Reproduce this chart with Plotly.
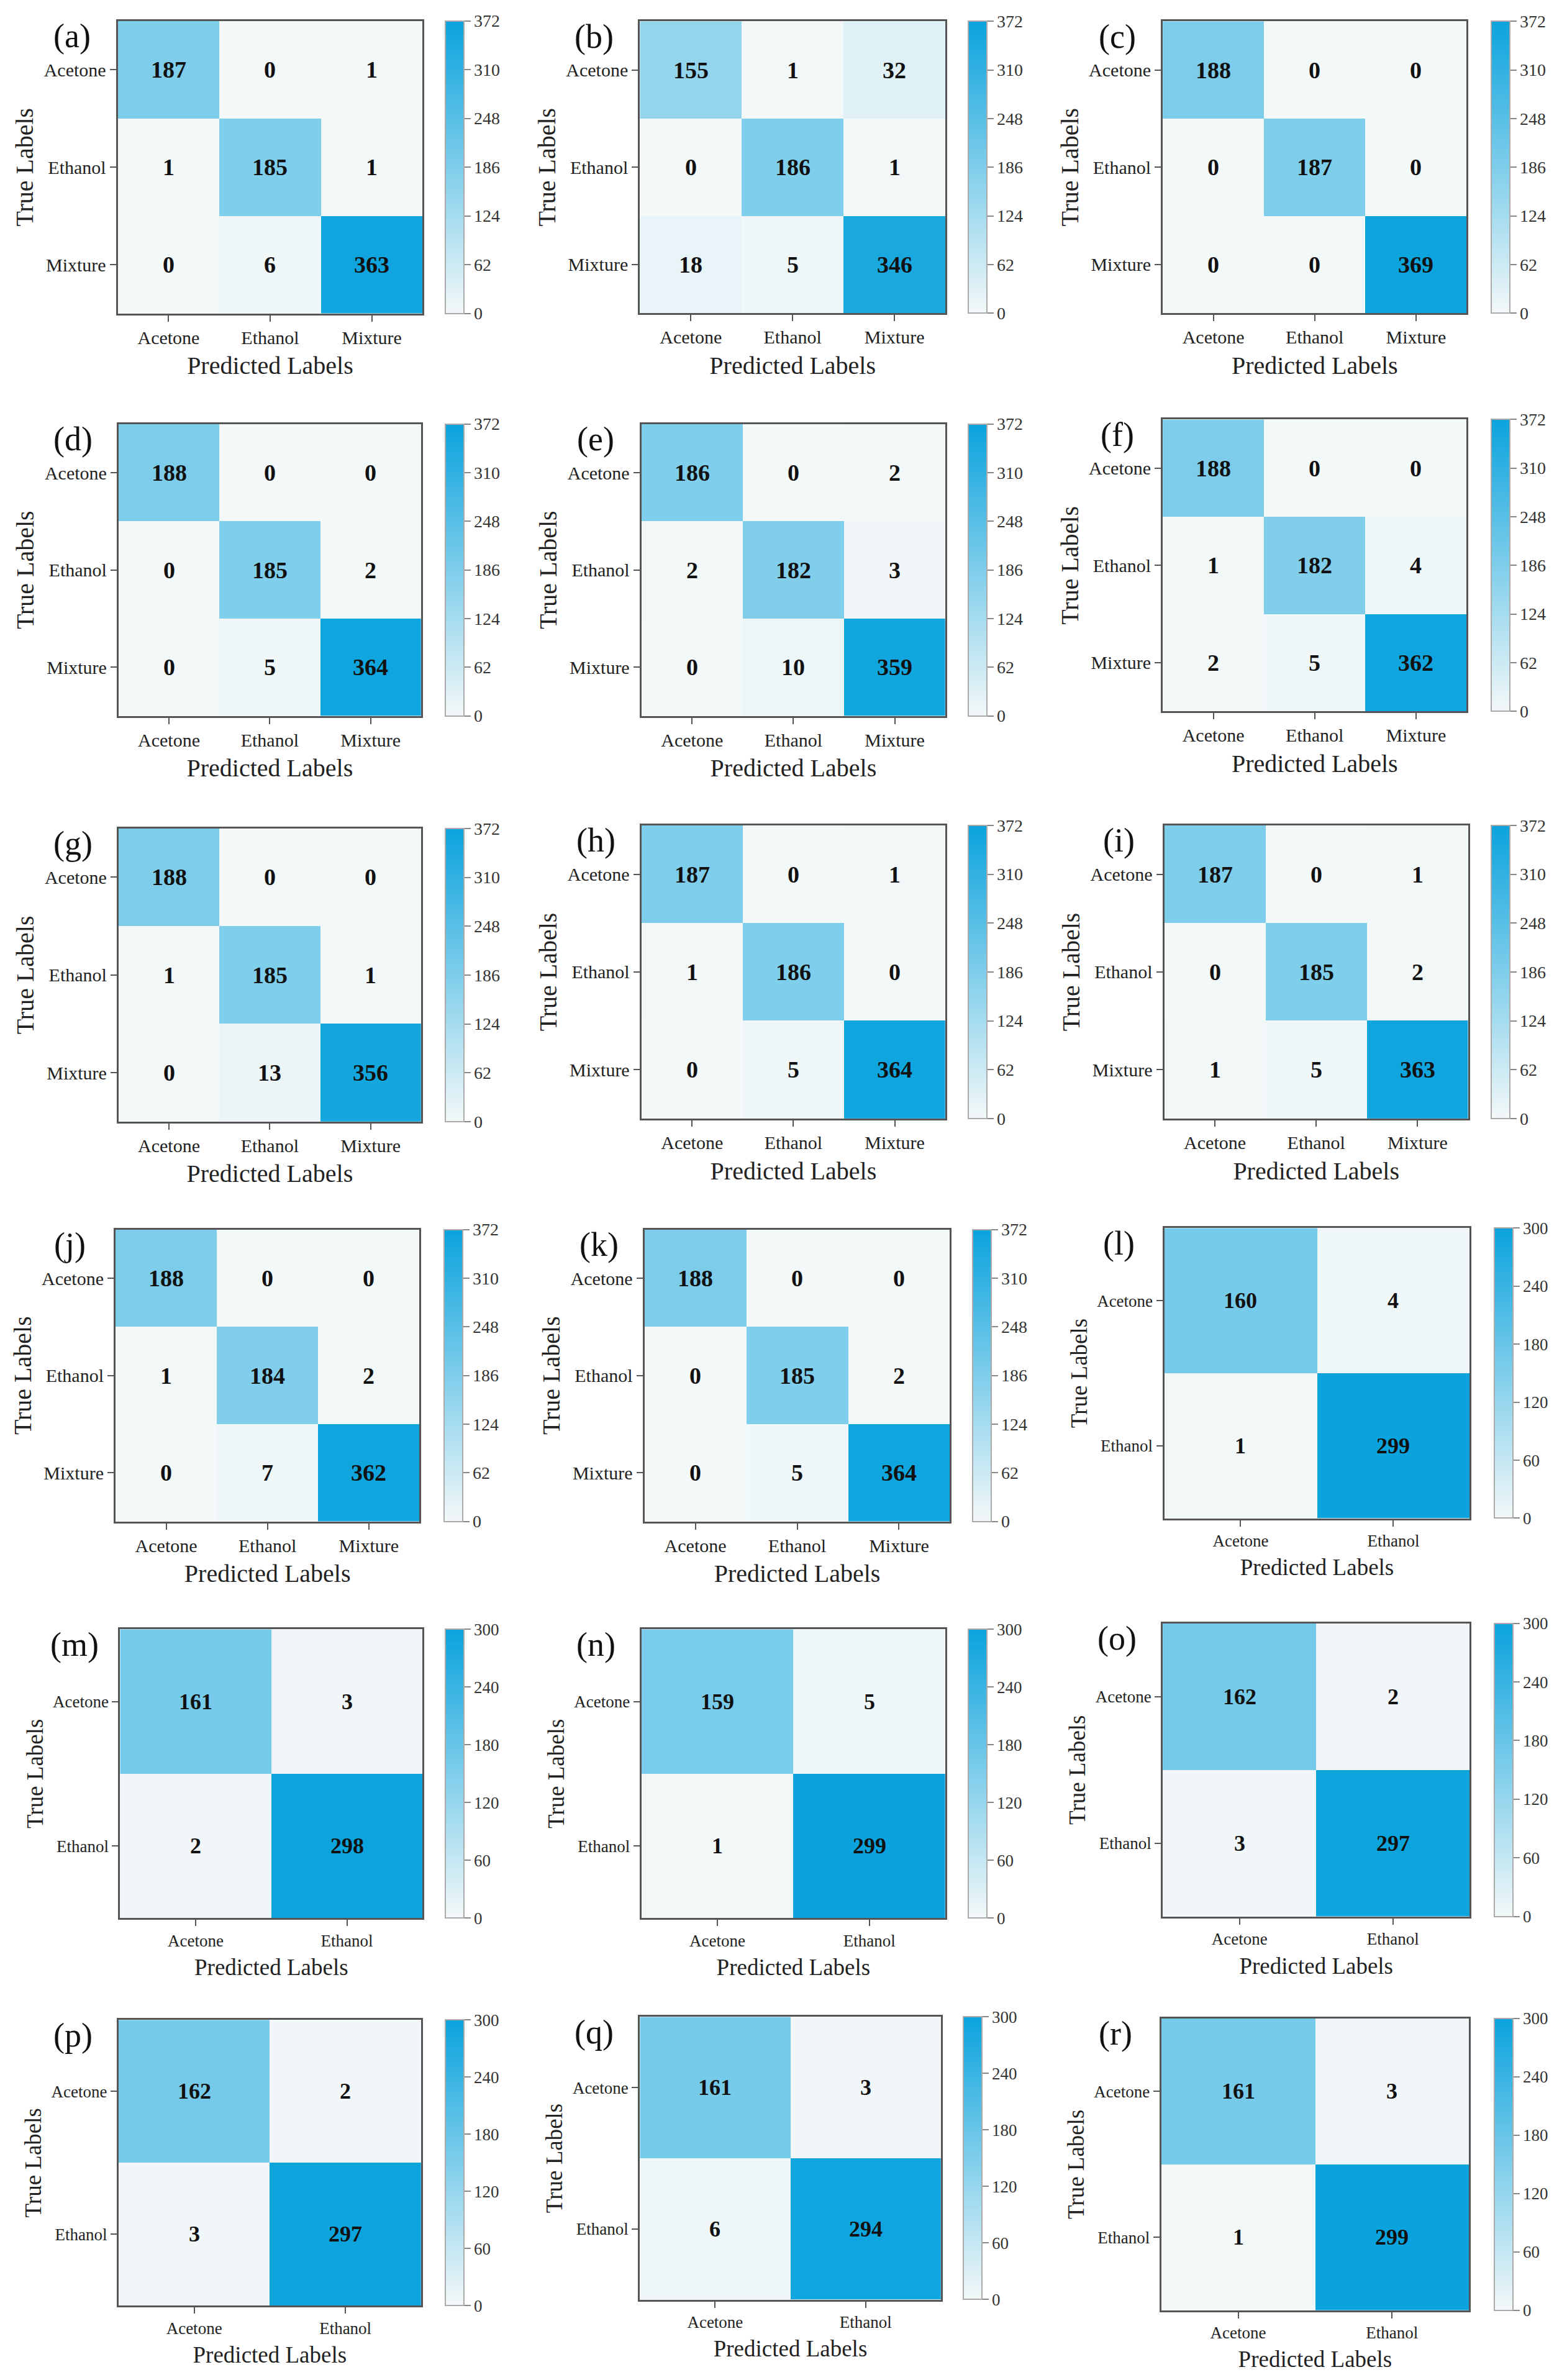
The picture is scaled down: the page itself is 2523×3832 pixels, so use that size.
import plotly.graph_objects as go

PAGE_W, PAGE_H = 2523, 3832
OFF = 8  # default browser body margin
W, H = PAGE_W - 2 * OFF, PAGE_H - 2 * OFF
S = PAGE_W / 1031.0  # reference display scale

classes3 = ["Acetone", "Ethanol", "Mixture"]
classes2 = ["Acetone", "Ethanol"]
ticks3 = [0, 62, 124, 186, 248, 310, 372]
ticks2 = [0, 60, 120, 180, 240, 300]

panel_names = list("abcdefghijklmnopqr")

cm_a = [[187, 0, 1], [1, 185, 1], [0, 6, 363]]
cm_b = [[155, 1, 32], [0, 186, 1], [18, 5, 346]]
cm_c = [[188, 0, 0], [0, 187, 0], [0, 0, 369]]
cm_d = [[188, 0, 0], [0, 185, 2], [0, 5, 364]]
cm_e = [[186, 0, 2], [2, 182, 3], [0, 10, 359]]
cm_f = [[188, 0, 0], [1, 182, 4], [2, 5, 362]]
cm_g = [[188, 0, 0], [1, 185, 1], [0, 13, 356]]
cm_h = [[187, 0, 1], [1, 186, 0], [0, 5, 364]]
cm_i = [[187, 0, 1], [0, 185, 2], [1, 5, 363]]
cm_j = [[188, 0, 0], [1, 184, 2], [0, 7, 362]]
cm_k = [[188, 0, 0], [0, 185, 2], [0, 5, 364]]
cm_l = [[160, 4], [1, 299]]
cm_m = [[161, 3], [2, 298]]
cm_n = [[159, 5], [1, 299]]
cm_o = [[162, 2], [3, 297]]
cm_p = [[162, 2], [3, 297]]
cm_q = [[161, 3], [6, 294]]
cm_r = [[161, 3], [1, 299]]

matrices = [cm_a, cm_b, cm_c, cm_d, cm_e, cm_f, cm_g, cm_h, cm_i,
            cm_j, cm_k, cm_l, cm_m, cm_n, cm_o, cm_p, cm_q, cm_r]

# layout boxes (reference display px): heatmap x0,x1,y0,y1 ; colorbar x0
boxes = [
    (77.5, 278, 13.7, 206.3, 293), (421, 622, 14, 206, 637), (765, 965, 14, 206, 981),
    (78, 277, 279, 471, 293), (422, 622, 279, 471, 637), (765, 965, 276, 468, 981),
    (78, 277, 545, 738, 293), (422, 622, 543, 736, 637), (766, 966, 543, 736, 981),
    (76, 276, 809, 1001, 292), (424, 625, 809, 1001, 640), (766, 967, 808, 999, 983),
    (79, 278, 1072, 1262, 293), (422, 622, 1072, 1262, 637), (765, 967, 1068, 1261, 983),
    (78, 277, 1329, 1517, 293), (421, 619, 1327, 1513, 634), (764, 966.5, 1328, 1520, 983),
]

FONT = "Liberation Serif"
colorscale = [[0, "rgb(243,248,248)"], [1, "rgb(10,163,221)"]]


def px(v):
    return v * S - OFF


fig = go.Figure()
layout = dict(width=W, height=H, margin=dict(l=0, r=0, t=0, b=0, autoexpand=False),
              paper_bgcolor="white", plot_bgcolor="white", showlegend=False,
              font=dict(family=FONT, color="#222"))
annotations = []

for i, (name, cm, box) in enumerate(zip(panel_names, matrices, boxes)):
    n = len(cm)
    cls = classes3 if n == 3 else classes2
    tv = ticks3 if n == 3 else ticks2
    zmax = tv[-1]
    tick_fs = 30 if n == 3 else 27
    title_fs = 40 if n == 3 else 37
    val_fs = 38 if n == 3 else 36
    cb_fs = 28 if n == 3 else 27

    x0, x1, y0, y1, cbx = [px(v) for v in box]
    xd = [x0 / W, x1 / W]
    yd = [1 - y1 / H, 1 - y0 / H]
    k = "" if i == 0 else str(i + 1)
    xa, ya = "x" + k, "y" + k

    fig.add_trace(go.Heatmap(
        z=cm, x=cls, y=cls, xaxis=xa, yaxis=ya,
        zmin=0, zmax=zmax, colorscale=colorscale, hoverinfo="skip",
        colorbar=dict(
            x=cbx / W, xanchor="left", xref="paper",
            y=(yd[0] + yd[1]) / 2, yanchor="middle",
            len=(y1 - y0), lenmode="pixels",
            thickness=30, thicknessmode="pixels",
            xpad=0, ypad=0,
            outlinecolor="#aaa", outlinewidth=2,
            tickvals=tv, ticktext=[str(t) for t in tv],
            ticks="outside", ticklen=10, tickwidth=2, tickcolor="#888",
            tickfont=dict(family=FONT, size=cb_fs, color="#333"),
        ),
    ))

    axcommon = dict(showline=True, mirror=True, linecolor="#555", linewidth=3,
                    ticks="outside", ticklen=10, tickwidth=2, tickcolor="#555",
                    showgrid=False, zeroline=False, automargin=False,
                    tickfont=dict(family=FONT, size=tick_fs, color="#222"))
    layout["xaxis" + k] = dict(domain=xd, anchor=ya, type="category",
                               title=dict(text="Predicted Labels", standoff=16,
                                          font=dict(family=FONT, size=title_fs, color="#222")),
                               **axcommon)
    layout["yaxis" + k] = dict(domain=yd, anchor=xa, type="category", autorange="reversed",
                               title=dict(text="True Labels", standoff=5,
                                          font=dict(family=FONT, size=title_fs, color="#222")),
                               **axcommon)

    for r in range(n):
        for c in range(n):
            annotations.append(dict(
                x=cls[c], y=cls[r], xref=xa, yref=ya, showarrow=False,
                text="<b>%d</b>" % cm[r][c],
                font=dict(family=FONT, size=val_fs, color="#111")))

    annotations.append(dict(
        x=(x0 - 30 * S) / W, y=1 - (y0 + 10 * S) / H, xref="paper", yref="paper",
        xanchor="center", yanchor="middle", showarrow=False,
        text="(%s)" % name, font=dict(family=FONT, size=54, color="#111")))

layout["annotations"] = annotations
fig.update_layout(**layout)
fig.write_html("out.html")
